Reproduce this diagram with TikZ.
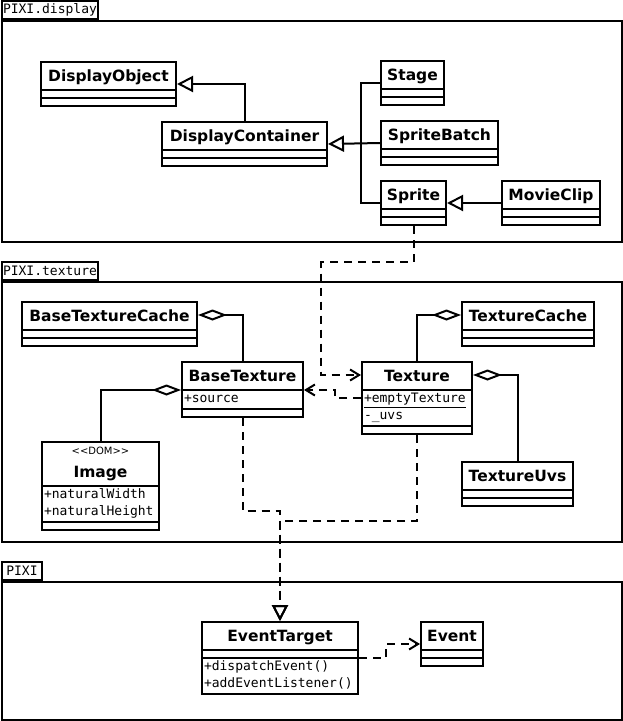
\documentclass[tikz,border=0pt]{standalone}
\usepackage{fontspec}
\setmainfont{DejaVu Sans}
\setmonofont{DejaVu Sans Mono}
\usepackage{xcolor}
\definecolor{cInk}{HTML}{000000}
\usepackage{tikz}
\usetikzlibrary{positioning,arrows.meta,calc,shapes.multipart}
% class compartments
\newcommand{\hdr}[1]{{\rmfamily\bfseries\fontsize{15.5}{18}\selectfont\rule[-8pt]{0pt}{26pt}#1}}
\newcommand{\emptypart}{\rule{0pt}{6pt}}
\newcommand{\attrs}[1]{\begin{tabular}{@{}l@{}}#1\end{tabular}}
\newcommand{\stereo}[1]{{\rmfamily\fontsize{10}{11}\selectfont\textless\kern0pt\textless#1\textgreater\kern0pt\textgreater}}
\tikzset{
  uml-class/.style={draw=cInk,line width=2pt,fill=white,anchor=north west,
    rectangle split,rectangle split parts=3,
    rectangle split part align={center,left,left},
    inner xsep=2pt,inner ysep=0pt,font=\ttfamily\fontsize{13}{17}\selectfont},
  pkg-frame/.style={draw=cInk,line width=2pt,anchor=north west,inner sep=0pt},
  pkg-tab/.style={draw=cInk,line width=2pt,anchor=south west,inner xsep=1pt,
    inner ysep=0pt,minimum height=18pt,minimum width=40pt,
    font=\ttfamily\fontsize{13}{15}\selectfont},
  line-plain/.style={line width=2pt,draw=cInk},
  arrow-inherit/.style={-{Triangle[open,length=16pt,width=16pt]},line width=2pt,draw=cInk},
  % realization / dependency: dashed, tips stay solid
  arrow-real/.style={-{Triangle[open,length=16pt,width=16pt]},line width=2pt,
    dash pattern=on 8pt off 6pt,draw=cInk},
  arrow-dep/.style={-{Straight Barb[length=9pt,width=11pt]},line width=2pt,
    dash pattern=on 8pt off 6pt,draw=cInk},
  arrow-agg/.style={{Diamond[open,length=29pt,width=11pt]}-,line width=2pt,draw=cInk},
}
\begin{document}
\begin{tikzpicture}[x=1pt,y=-1pt]
  \useasboundingbox (0,0) rectangle (622,721);
  % packages
  \foreach \name/\txt/\y/\h in {display/PIXI.display/20/221, texture/PIXI.texture/281/260, core/PIXI/581/138} {
    \node[pkg-frame,minimum width=620pt,minimum height=\h pt] (pkg-\name) at (1,\y) {};
    \node[pkg-tab] (tab-\name) at (pkg-\name.north west) {\txt};
  }
  % classes with empty compartments
  \foreach \name/\x/\y/\w in {DisplayObject/40/61/135, DisplayContainer/161/121/165,
      Stage/380/60/63, SpriteBatch/380/120/117, Sprite/380/180/65, MovieClip/501/180/98,
      BaseTextureCache/21/301/175, TextureCache/461/301/132, TextureUvs/461/461/111,
      Event/420/621/62} {
    \node[uml-class,minimum width=\w pt] (\name) at (\x,\y)
      {\hdr{\name}\nodepart{two}\emptypart\nodepart{three}\emptypart};
  }
  \node[uml-class,minimum width=121pt] (BaseTexture) at (181,361)
    {\hdr{BaseTexture}\nodepart{two}\attrs{+source}\nodepart{three}\emptypart};
  \node[uml-class,minimum width=110pt] (Texture) at (361,361)
    {\hdr{Texture}\nodepart{two}\attrs{\underline{+emptyTexture}\\-\_uvs}\nodepart{three}\emptypart};
  \node[uml-class,minimum width=117pt] (Image) at (41,441)
    {\begin{tabular}{@{}c@{}}\stereo{DOM}\\[-1pt]\hdr{Image}\end{tabular}%
     \nodepart{two}\attrs{+naturalWidth\\+naturalHeight}\nodepart{three}\emptypart};
  \node[uml-class,minimum width=156pt] (EventTarget) at (201,621)
    {\hdr{EventTarget}\nodepart{two}\emptypart\nodepart{three}\attrs{+dispatchEvent()\\+addEventListener()}};

  % PIXI.display
  \coordinate (trunk) at ([xshift=-19pt]SpriteBatch.west);
  \draw[arrow-inherit] (DisplayContainer.north) |- (DisplayObject.east);
  \draw[arrow-inherit] (SpriteBatch.west) -- (DisplayContainer.east);
  \draw[line-plain] (Stage.west) -| (trunk) |- (Sprite.west);
  \draw[arrow-inherit] (MovieClip.west) -- (Sprite.east);
  \draw[arrow-dep] (Sprite.south) -- ++(0,36)
    -| ([xshift=-40pt,yshift=-14pt]Texture.north west) -- ([yshift=-14pt]Texture.north west);

  % PIXI.texture
  \draw[arrow-agg] ([yshift=-14pt]BaseTextureCache.north east) -| (BaseTexture.north);
  \draw[arrow-agg] (BaseTexture.text split west) -| (Image.north);
  \draw[arrow-agg] ([yshift=-14pt]TextureCache.north west) -| (Texture.north);
  \draw[arrow-agg] ([yshift=-14pt]Texture.north east) -| (TextureUvs.north);
  \draw[arrow-dep] (Texture.west) -- ++(-26,0) |- (BaseTexture.text split east);
  \draw[arrow-real] (BaseTexture.south) -- ++(0,93) -| (EventTarget.north);
  \draw[arrow-real] (Texture.south) -- ++(0,86) -| (EventTarget.north);

  % PIXI
  \draw[arrow-dep] (EventTarget.two split east) -- ++(27,0) |- (Event.west);
\end{tikzpicture}
\end{document}
